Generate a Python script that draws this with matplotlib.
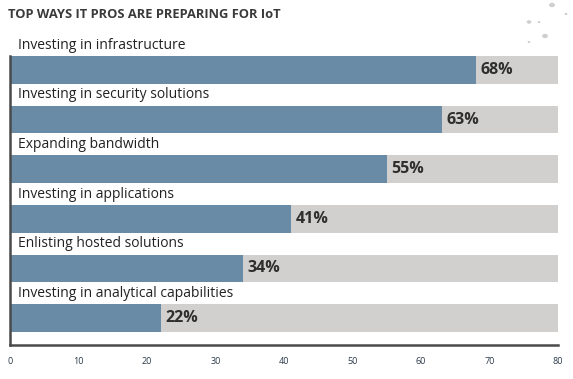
import matplotlib.pyplot as plt

categories = [
    "Investing in infrastructure",
    "Investing in security solutions",
    "Expanding bandwidth",
    "Investing in applications",
    "Enlisting hosted solutions",
    "Investing in analytical capabilities",
]
values = [68, 63, 55, 41, 34, 22]
full_scale = 80
xticks = [0, 10, 20, 30, 40, 50, 60, 70, 80]

BLUE = "#6a8ba5"
GREY = "#d1d0ce"
DARK = "#3a3a3a"

plt.rcParams["font.family"] = ["Open Sans", "DejaVu Sans"]

fig = plt.figure(figsize=(5.73, 3.79), dpi=100)
ax = fig.add_axes([10 / 573, 1 - 345 / 379, 548 / 573, 325 / 379])

n = len(categories)
ypos = [n - 1 - i for i in range(n)]
bar_h = 0.56

ax.barh(ypos, [full_scale] * n, height=bar_h, color=GREY, left=0)
ax.barh(ypos, values, height=bar_h, color=BLUE)

for y, cat, v in zip(ypos, categories, values):
    ax.text(1.1, y + 0.5, cat, ha="left", va="center", fontsize=10, color="#222222")
    ax.text(v + 0.7, y, f"{v}%", ha="left", va="center", fontsize=11.5,
            fontweight="bold", color="#2e2e2e")

ax.set_xlim(0, full_scale)
ax.set_ylim(-0.544, 6.008)
ax.set_xticks(xticks)
ax.set_xticklabels([str(t) for t in xticks], fontsize=6.5, color="#2a3a4a")
ax.tick_params(axis="x", length=0, pad=9)
ax.set_yticks([])
for s in ["top", "right"]:
    ax.spines[s].set_visible(False)
for s in ["left", "bottom"]:
    ax.spines[s].set_color("#4a4a4a")
    ax.spines[s].set_linewidth(1.8)
ax.spines["left"].set_bounds(-0.544, ypos[0] + bar_h / 2)

fig.text(8 / 573, 1 - 14 / 379, "TOP WAYS IT PROS ARE PREPARING FOR IoT",
         ha="left", va="center", fontsize=9.3, fontweight="bold", color=DARK)

# faint decorative dots, top right corner
dots = [(552, 5, 2.2), (566, 14, 0.7), (529, 22, 1.6), (539, 22, 0.6),
        (545, 36, 2.2), (529, 42, 0.6)]
for px, py, r in dots:
    fig.patches.append(plt.Circle((px / 573, 1 - py / 379), r / 573,
                                  transform=fig.transFigure, color="#cfcfcf"))

fig.savefig("out.png", dpi=100)
